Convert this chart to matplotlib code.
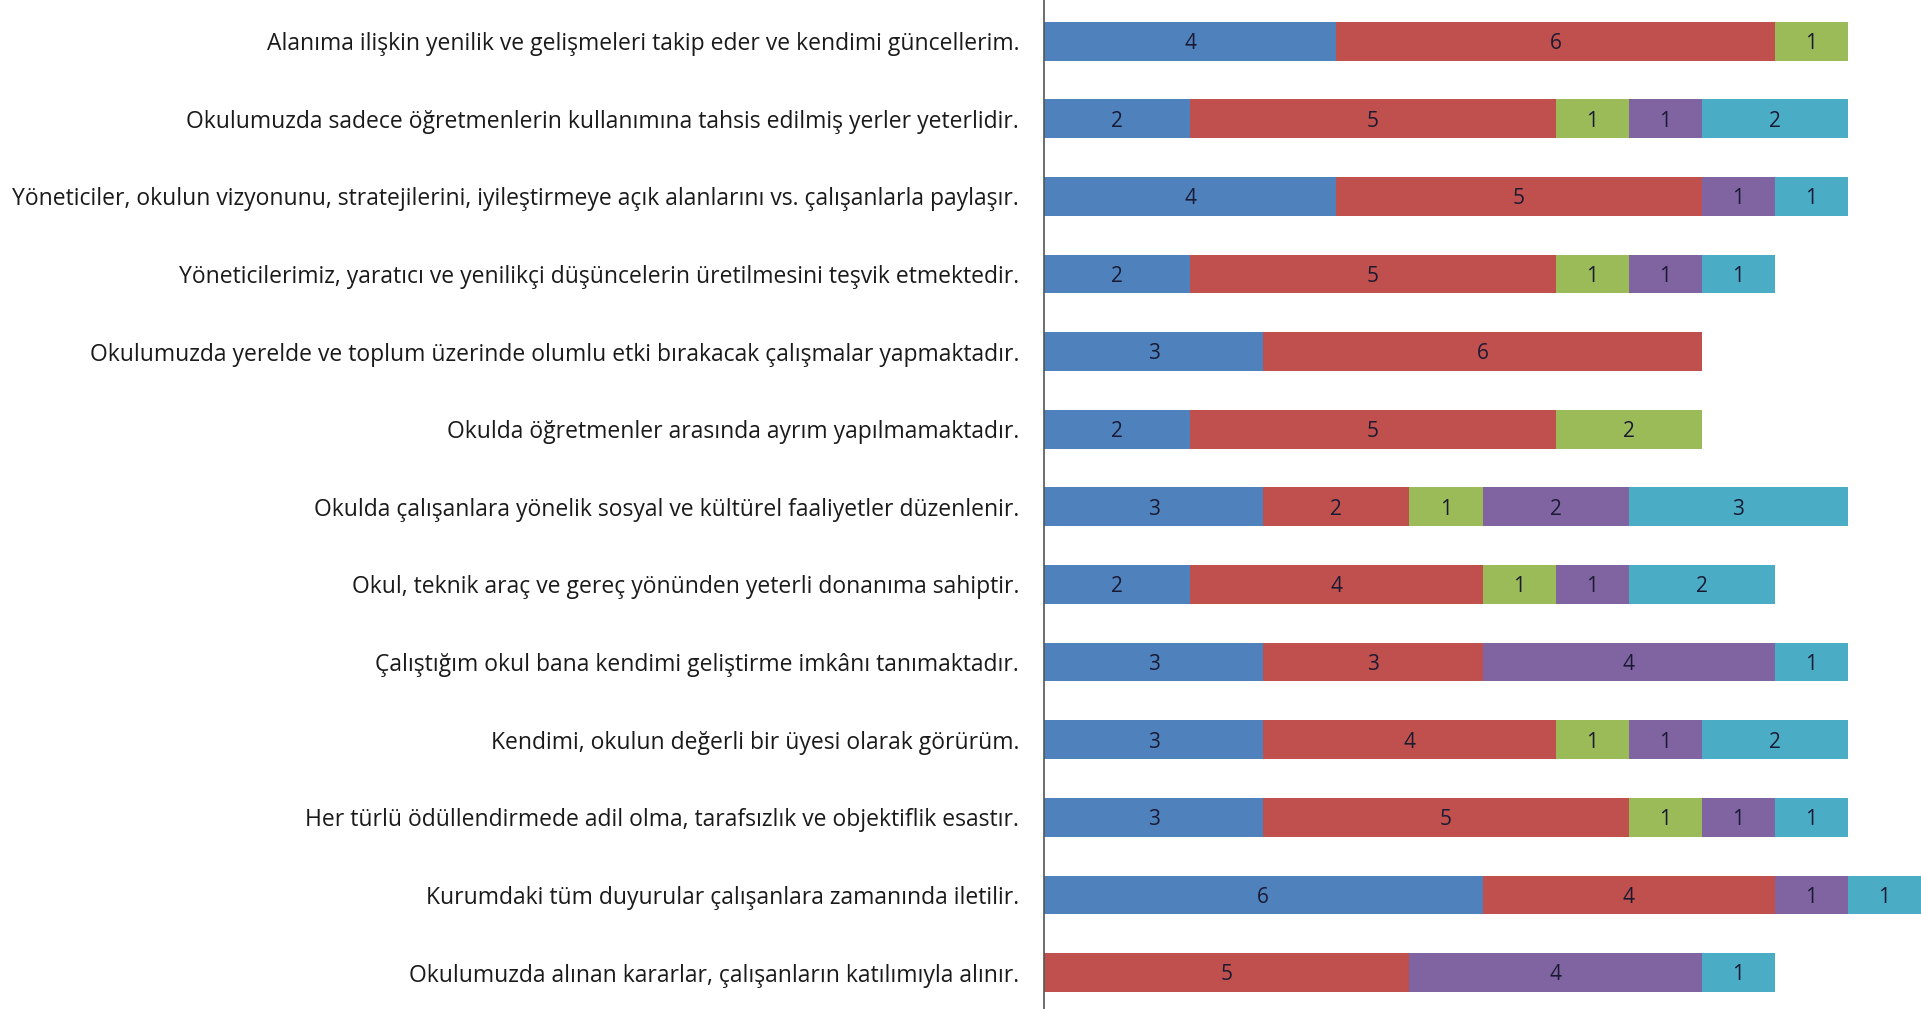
import matplotlib
matplotlib.use("Agg")
import matplotlib.pyplot as plt
import numpy as np

categories = [
    "Alanıma ilişkin yenilik ve gelişmeleri takip eder ve kendimi güncellerim.",
    "Okulumuzda sadece öğretmenlerin kullanımına tahsis edilmiş yerler yeterlidir.",
    "Yöneticiler, okulun vizyonunu, stratejilerini, iyileştirmeye açık alanlarını vs. çalışanlarla paylaşır.",
    "Yöneticilerimiz, yaratıcı ve yenilikçi düşüncelerin üretilmesini teşvik etmektedir.",
    "Okulumuzda yerelde ve toplum üzerinde olumlu etki bırakacak çalışmalar yapmaktadır.",
    "Okulda öğretmenler arasında ayrım yapılmamaktadır.",
    "Okulda çalışanlara yönelik sosyal ve kültürel faaliyetler düzenlenir.",
    "Okul, teknik araç ve gereç yönünden yeterli donanıma sahiptir.",
    "Çalıştığım okul bana kendimi geliştirme imkânı tanımaktadır.",
    "Kendimi, okulun değerli bir üyesi olarak görürüm.",
    "Her türlü ödüllendirmede adil olma, tarafsızlık ve objektiflik esastır.",
    "Kurumdaki tüm duyurular çalışanlara zamanında iletilir.",
    "Okulumuzda alınan kararlar, çalışanların katılımıyla alınır.",
]

s1 = [4, 2, 4, 2, 3, 2, 3, 2, 3, 3, 3, 6, 0]
s2 = [6, 5, 5, 5, 6, 5, 2, 4, 3, 4, 5, 4, 5]
s3 = [1, 1, 0, 1, 0, 2, 1, 1, 0, 1, 1, 0, 0]
s4 = [0, 1, 1, 1, 0, 0, 2, 1, 4, 1, 1, 1, 4]
s5 = [0, 2, 1, 1, 0, 0, 3, 2, 1, 2, 1, 1, 1]

series = [s1, s2, s3, s4, s5]
colors = ["#4F81BD", "#C0504D", "#9BBB59", "#8064A2", "#4BACC6"]

plt.rcParams['font.family'] = ['Open Sans', 'DejaVu Sans']

fig = plt.figure(figsize=(19.21, 10.09), dpi=100)
ax = fig.add_axes([0.5435, 0.0, 0.4565, 1.0])

y = np.arange(len(categories))
left = np.zeros(len(categories))
for vals, c in zip(series, colors):
    vals = np.array(vals, dtype=float)
    ax.barh(y, vals, left=left, height=0.5, color=c, edgecolor='none')
    for yi, v, l in zip(y, vals, left):
        if v > 0:
            ax.text(l + v / 2, yi + 0.03, f"{int(v)}", ha='center', va='center',
                    fontsize=15, color='#1a1a33')
    left = left + vals

ax.set_xlim(0, 12)
ax.set_ylim(len(categories) - 0.53, -0.53)
ax.set_yticks(y)
ax.set_yticklabels(categories, fontsize=16.5, color='#1a1a1a')
ax.tick_params(axis='y', length=0, pad=18)
ax.set_xticks([])
for side in ['top', 'right', 'bottom']:
    ax.spines[side].set_visible(False)
ax.spines['left'].set_color('#555555')
ax.spines['left'].set_linewidth(1.2)

fig.savefig("out.png", dpi=100, facecolor='white')
